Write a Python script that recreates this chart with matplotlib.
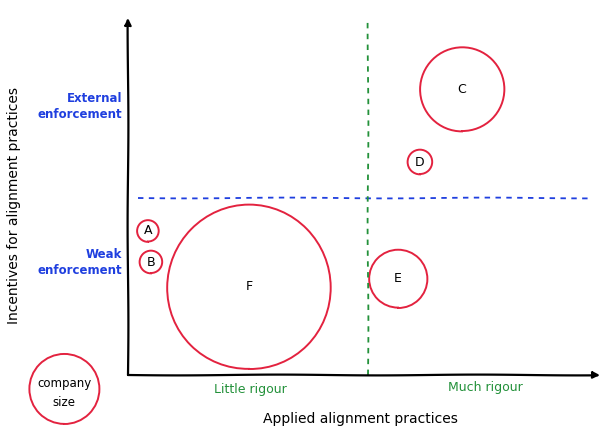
import matplotlib
matplotlib.use("Agg")
import matplotlib.pyplot as plt
from matplotlib.patches import Circle

# companies: position on (rigour, incentives) plane and drawn radius (company size)
names   = ["A", "B", "C", "D", "E", "F"]
rigour  = [20, 23, 334, 292, 270, 121]
incent  = [144, 113, 286, 213, 96, 88]
size    = [10.5, 11, 42, 12, 29, 82]

x_split = 240   # little vs much rigour
y_split = 177   # weak vs external enforcement

RED   = "#e3223f"
BLUE  = "#1f3fdf"
GREEN = "#23913a"

plt.rcParams["font.family"] = ["DejaVu Sans"]
plt.rcParams["path.sketch"] = (0.4, 200, 1)

fig = plt.figure(figsize=(6.01, 4.26), dpi=100)
# axes spans pixel x 128..600, y 18..375
ax = fig.add_axes([128 / 601, (426 - 375) / 426, 472 / 601, 357 / 426])
ax.set_xlim(0, 472)
ax.set_ylim(0, 357)
ax.set_aspect("equal", adjustable="box")
ax.axis("off")

# axes with arrows
ax.annotate("", xy=(472, 0), xytext=(0, 0), annotation_clip=False,
            arrowprops=dict(arrowstyle="-|>", color="black", lw=1.6,
                            mutation_scale=10, shrinkA=0, shrinkB=0))
ax.annotate("", xy=(0, 357), xytext=(0, 0), annotation_clip=False,
            arrowprops=dict(arrowstyle="-|>", color="black", lw=1.6,
                            mutation_scale=10, shrinkA=0, shrinkB=0))

# quadrant split lines
ax.plot([10, 462], [y_split, y_split], ls=(0, (3, 3)), color=BLUE, lw=1.3)
ax.plot([x_split, x_split], [0, 355], ls=(0, (3, 3)), color=GREEN, lw=1.3)

# company bubbles
for n, x, y, r in zip(names, rigour, incent, size):
    ax.add_patch(Circle((x, y), r, fill=False, ec=RED, lw=1.4))
    ax.text(x, y, n, ha="center", va="center", fontsize=9)

# legend bubble
ax.add_patch(Circle((-64, -14), 35, fill=False, ec=RED, lw=1.4, clip_on=False))
ax.text(-64, -18, "company\nsize", ha="center", va="center", fontsize=8.5,
        linespacing=1.5)

# y category labels
ax.text(-6, 269, "External\nenforcement", ha="right", va="center", color=BLUE,
        fontsize=8.5, fontweight="bold", linespacing=1.3)
ax.text(-6, 112, "Weak\nenforcement", ha="right", va="center", color=BLUE,
        fontsize=8.5, fontweight="bold", linespacing=1.3)

# x category labels
ax.text(122, -15, "Little rigour", ha="center", va="center", color=GREEN, fontsize=9)
ax.text(357, -13, "Much rigour", ha="center", va="center", color=GREEN, fontsize=9)

ax.text(232, -44, "Applied alignment practices", ha="center", va="center", fontsize=10)
ax.text(-114, 170, "Incentives for alignment practices", ha="center", va="center",
        rotation=90, fontsize=10)

fig.savefig("out.png", dpi=100)
